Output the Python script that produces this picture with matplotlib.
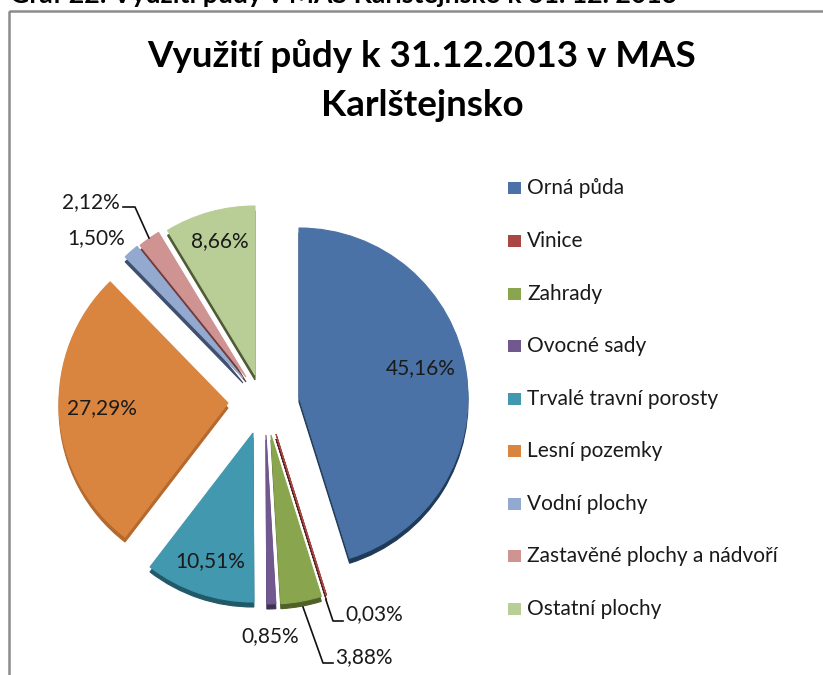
import matplotlib
matplotlib.use("Agg")
import matplotlib.pyplot as plt
from matplotlib.patches import Rectangle

kategorie = ["Orná půda", "Vinice", "Zahrady", "Ovocné sady", "Trvalé travní porosty",
             "Lesní pozemky", "Vodní plochy", "Zastavěné plochy a nádvoří", "Ostatní plochy"]
hodnoty = [45.16, 0.03, 3.88, 0.85, 10.51, 27.29, 1.50, 2.12, 8.66]
popisky = ["45,16%", "0,03%", "3,88%", "0,85%", "10,51%", "27,29%", "1,50%", "2,12%", "8,66%"]

barvy = ["#4a72a6", "#aa4643", "#89a54e", "#71588f", "#4198af", "#d9853f", "#93a9cf", "#cf9392", "#b9cd96"]
barvy_bok = ["#1f3a57", "#5a2321", "#4f6128", "#3f3151", "#215968", "#b5692c", "#3f506e", "#6e3a3a", "#4f5b35"]

# vrcholy vysecí v pixelech (vysunute kazda zvlast)
vrcholy = [(299, 397), (276, 434), (271, 435), (266, 435), (253, 433),
           (228, 403), (243, 378), (246, 377), (255, 375)]
polomer = 169
hloubka = 5

# pozice popisku v pixelech
pozice = [(421, 368), (374, 614), (364, 657), (270, 636), (210, 561),
          (102, 408), (96, 238), (91, 202), (220, 241)]

plt.rcParams["font.family"] = ["Lato", "DejaVu Sans"]

fig = plt.figure(figsize=(8.23, 6.75), dpi=100)
ax = fig.add_axes([0, 0, 1, 1])

# ramecek grafu
ax.add_patch(Rectangle((9.5, 10.5), 900, 800, fill=False, edgecolor="#8c8c8c", linewidth=1.8))

# nadpis nad ramcem, oriznuty hornim okrajem
ax.text(10, 3, "Graf 22: Využití půdy v MAS Karlštejnsko k 31. 12. 2013", fontsize=19.2,
        fontweight="bold", va="baseline", ha="left", color="black")

ax.text(422, 56, "Využití půdy k 31.12.2013 v MAS", fontsize=26.5, fontweight="bold", ha="center", va="center")
ax.text(422, 105, "Karlštejnsko", fontsize=26.5, fontweight="bold", ha="center", va="center")

# bok (tmavsi kopie posunuta dolu), potom vrch
for posun, sada in [(hloubka, barvy_bok), (0, barvy)]:
    wedges, _ = ax.pie(hodnoty, colors=sada, startangle=90, counterclock=False, radius=polomer,
                       center=(0, 0), normalize=True, frame=True)
    for w, (vx, vy), b in zip(wedges, vrcholy, sada):
        # osa y je otocena, proto prevracime uhly
        t1, t2 = w.theta1, w.theta2
        w.set_theta1(-t2)
        w.set_theta2(-t1)
        w.set_center((vx, vy + posun))
        w.set_edgecolor(b)
        w.set_linewidth(0.8)
        w.set_zorder(2 if posun else 3)

ax.set_aspect("auto")
ax.set_xlim(0, 823)
ax.set_ylim(675, 0)
ax.axis("off")

for txt, (x, y) in zip(popisky, pozice):
    ax.text(x, y, txt, fontsize=15, ha="center", va="center", color="#1a1a1a", zorder=5)

# odkazove cary
ax.plot([326, 333, 343], [600, 621, 621], color="#111111", linewidth=1.2, zorder=4)
ax.plot([303, 323, 333], [607, 663, 663], color="#111111", linewidth=1.2, zorder=4)
ax.plot([123, 135, 149], [207, 207, 238], color="#111111", linewidth=1.2, zorder=4)

# legenda
leg_y = [188, 241, 294, 346, 399, 451, 504, 556, 609]
for nazev, barva, y in zip(kategorie, barvy, leg_y):
    ax.add_patch(Rectangle((508, y - 6), 13, 12, facecolor=barva, edgecolor="none"))
    ax.text(527, y, nazev, fontsize=15, ha="left", va="center", color="#1a1a1a")

fig.savefig("out.png", dpi=100)
